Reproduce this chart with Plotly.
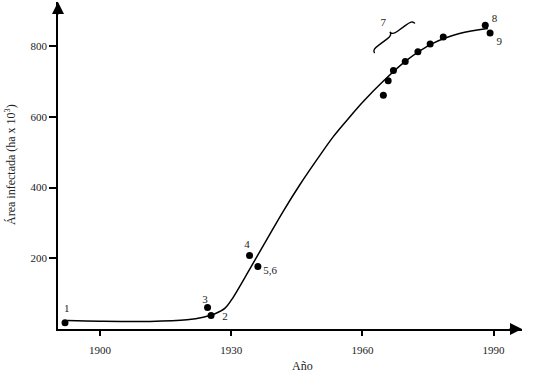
import plotly.graph_objects as go

# Observed points (year, infected area in 10^3 ha)
obs_years = [1892.0, 1924.6, 1925.4, 1934.2, 1936.1, 1964.8, 1965.9, 1967.1,
             1969.8, 1972.7, 1975.5, 1978.5, 1988.1, 1989.2]
obs_area = [18, 61, 38, 208, 177, 661, 702, 731, 757, 784, 806, 826, 859, 837]

# Fitted curve
curve_years = [1892.5, 1900.0, 1911.4, 1919.9, 1923.6, 1926.3, 1928.6, 1930.1,
               1931.6, 1933.2, 1935.1, 1938.1, 1941.9, 1945.7, 1949.6, 1953.4,
               1957.2, 1960.1, 1965.1, 1970.1, 1976.1, 1982.2, 1988.7]
curve_area = [24, 22, 21.5, 26, 33, 43, 59, 83,
              113, 147, 188, 252, 333, 408, 479, 545,
              601, 642, 705, 760, 808, 836, 850]

# Point labels
label_text = ["1", "3", "2", "4", "5,6", "7", "8", "9"]
label_years = [1892.4, 1924.0, 1928.6, 1933.6, 1938.9, 1964.8, 1990.2, 1991.3]
label_area = [55, 81, 34, 238, 163, 866, 877, 811]

x_ticks = [1900, 1930, 1960, 1990]
y_ticks = [200, 400, 600, 800]

X_RANGE = [1890.4, 1996.5]
Y_RANGE = [0, 925]
W, H = 534, 373
ML, MR, MT, MB = 58, 12, 2, 44
PW, PH = W - ML - MR, H - MT - MB

FONT = "Liberation Serif"
TXT = "#222"


def px_to_data(px, py):
    x = X_RANGE[0] + (px - ML) / PW * (X_RANGE[1] - X_RANGE[0])
    y = Y_RANGE[0] + (H - MB - py) / PH * (Y_RANGE[1] - Y_RANGE[0])
    return x, y


# brace decoration (local pixel frame: u along span, v toward the cusp)
brace_center = (394.7, 38.3)
span_dir = (0.805, -0.593)
norm_dir = (-0.593, -0.805)
brace_local = [("M", [(-25, 0)]),
               ("C", [(-25, 3.5), (-22, 4), (-16, 4)]),
               ("L", [(-6, 4)]),
               ("C", [(-2, 4), (0, 5.5), (0, 8)]),
               ("C", [(0, 5.5), (2, 4), (6, 4)]),
               ("L", [(16, 4)]),
               ("C", [(22, 4), (25, 3.5), (25, 0)])]
path_parts = []
for cmd, pts in brace_local:
    coords = []
    for u, v in pts:
        px = brace_center[0] + u * span_dir[0] + v * norm_dir[0]
        py = brace_center[1] + u * span_dir[1] + v * norm_dir[1]
        dx, dy = px_to_data(px, py)
        coords.append(f"{dx:.4f},{dy:.4f}")
    path_parts.append(cmd + " " + " ".join(coords))
brace_path = " ".join(path_parts)

fig = go.Figure()
fig.add_trace(go.Scatter(x=curve_years, y=curve_area, mode="lines",
                         line=dict(color="black", width=1.5, shape="spline", smoothing=1.0),
                         hoverinfo="skip", showlegend=False))
fig.add_trace(go.Scatter(x=obs_years, y=obs_area, mode="markers",
                         marker=dict(color="black", size=7),
                         showlegend=False, cliponaxis=False))
fig.add_trace(go.Scatter(x=label_years, y=label_area, mode="text", text=label_text,
                         textfont=dict(family=FONT, size=11, color=TXT),
                         showlegend=False, cliponaxis=False))

annotations = [
    dict(x=1, y=0, xref="paper", yref="paper", ax=-14, ay=0, text="",
         showarrow=True, arrowhead=2, arrowsize=1.6, arrowwidth=1.5, arrowcolor="black"),
    dict(x=0, y=1, xref="paper", yref="paper", ax=0, ay=14, text="",
         showarrow=True, arrowhead=2, arrowsize=1.6, arrowwidth=1.5, arrowcolor="black"),
    dict(x=(302 - ML) / PW, y=(H - MB - 366) / PH, xref="paper", yref="paper",
         text="Año", showarrow=False, font=dict(family=FONT, size=12, color=TXT),
         xanchor="center", yanchor="middle"),
    dict(x=(10 - ML) / PW, y=(H - MB - 165) / PH, xref="paper", yref="paper",
         text="Área infectada (ha x 10<sup>3</sup>)", showarrow=False, textangle=-90,
         font=dict(family=FONT, size=12, color=TXT),
         xanchor="center", yanchor="middle"),
]

fig.update_layout(
    width=W, height=H,
    margin=dict(l=ML, r=MR, t=MT, b=MB),
    paper_bgcolor="white", plot_bgcolor="white",
    annotations=annotations,
    shapes=[dict(type="path", path=brace_path, xref="x", yref="y",
                 line=dict(color="black", width=1.4))],
    xaxis=dict(range=X_RANGE, showgrid=False, zeroline=False,
               showline=True, linecolor="black", linewidth=1.5,
               ticks="outside", ticklen=5, tickwidth=1.5, tickcolor="black",
               tickvals=x_ticks, ticktext=[str(v) for v in x_ticks],
               ticklabelstandoff=5,
               tickfont=dict(family=FONT, size=11, color=TXT)),
    yaxis=dict(range=Y_RANGE, showgrid=False, zeroline=False,
               showline=True, linecolor="black", linewidth=1.5,
               ticks="outside", ticklen=7, tickwidth=1.5, tickcolor="black",
               tickvals=y_ticks, ticktext=[str(v) for v in y_ticks],
               ticklabelstandoff=0,
               tickfont=dict(family=FONT, size=11, color=TXT)),
)

fig.write_html("out.html", config={"displayModeBar": False},
               post_script="document.body.style.margin='0';document.body.style.padding='0';")
